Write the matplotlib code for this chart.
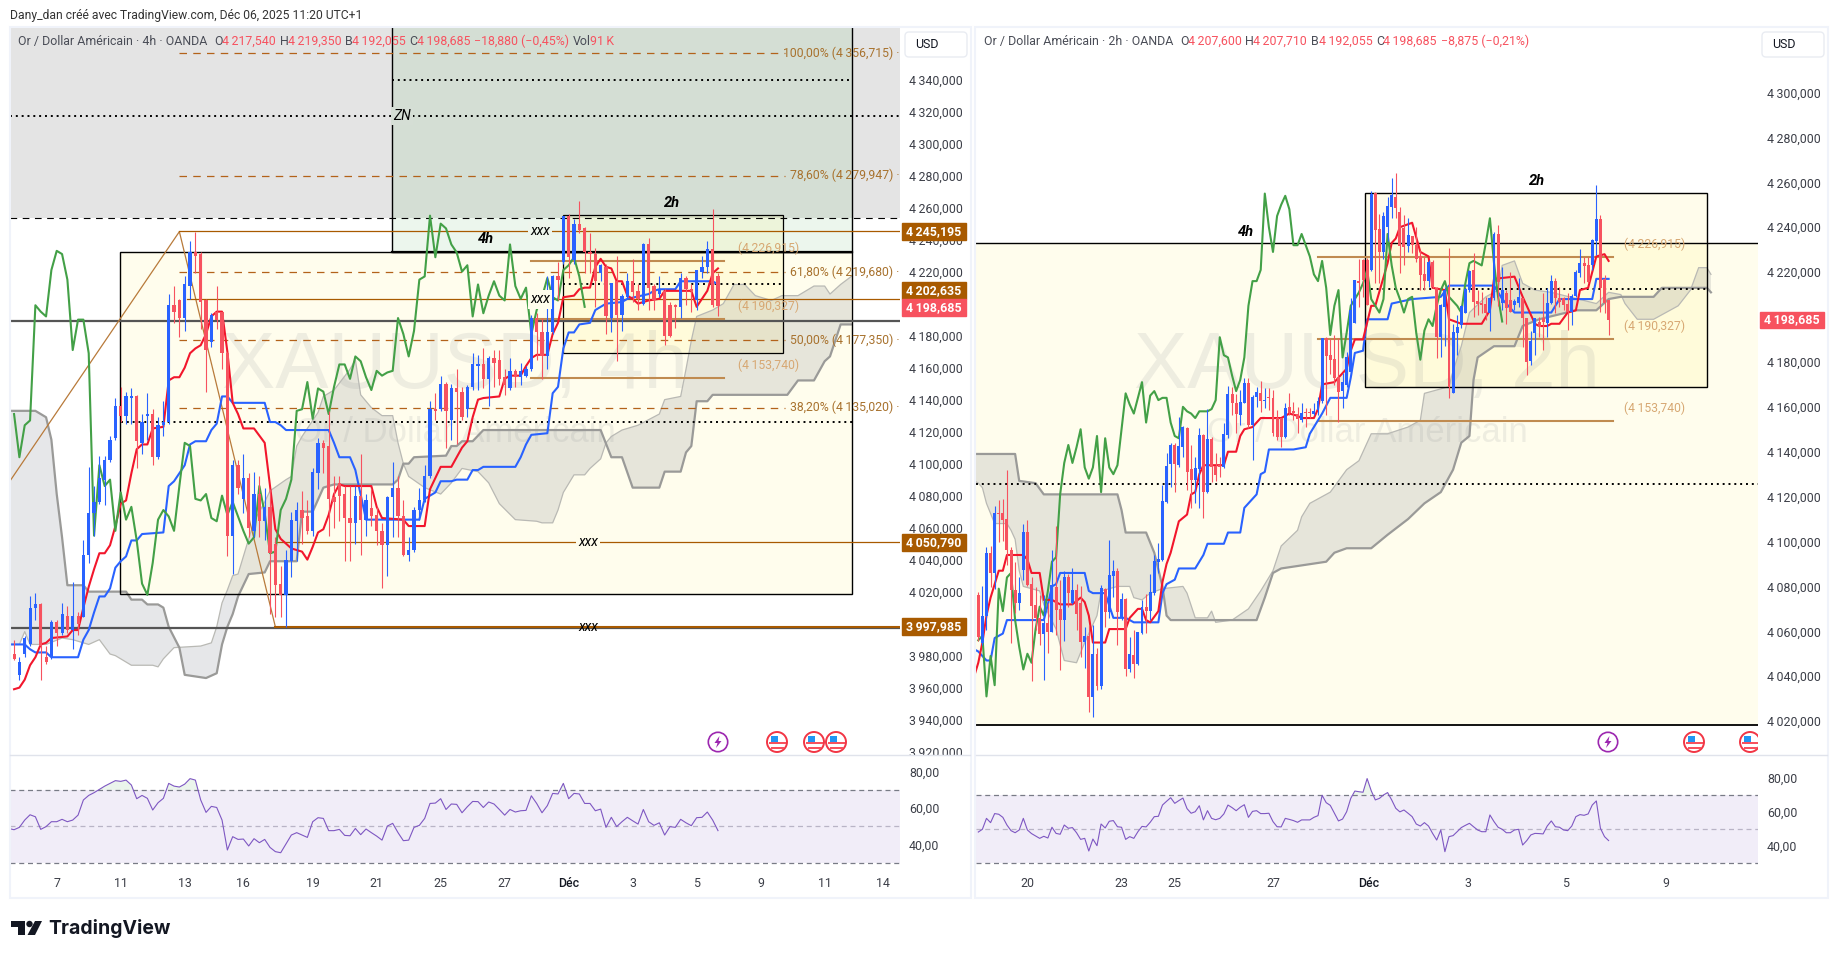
import numpy as np
import matplotlib
matplotlib.use('Agg')
import matplotlib.pyplot as plt
from matplotlib.patches import Rectangle, Circle, Polygon, FancyBboxPatch
from matplotlib.transforms import blended_transform_factory

plt.rcParams['font.family'] = ['Roboto', 'DejaVu Sans']

W, H = 1838, 958
BLUE = '#2962ff'
RED = '#f7525f'
BROWN = '#a85a00'
GREEN = '#43a047'
TENKAN = '#f2162c'

# ---- 4h chart ----
left_open = [3981,3968,3981,3987,4010,4012,3979,3979,4001,3994,4005,3996,4005,4004,4043,4069,4076,4090,4102,4116,
    4136,4130,4141,4142,4113,4130,4131,4104,4124,4126,
    4199,4202,4191,4211,4232,4231,4202,4176,4195,4195,
    4169,4055,4099,4078,4091,4058,4081,4064,4073,4050,
    4025,4018,4039,4064,4071,4067,4058,4094,4113,4111,
    4079,4088,4081,4066,4063,4080,4065,4072,4068,4058,
    4049,4079,4085,4067,4043,4046,4071,4077,4092,4134,
    4134,4150,4127,4147,4145,4134,4148,4161,4162,4153,
    4166,4165,4154,4147,4158,4154,4155,4159,4191,4182,
    4167,4182,4217,4226,4255,4227,4250,4247,4232,4231,
    4219,4223,4191,4214,4193,4204,4214,4208,4200,4237,
    4211,4206,4208,4199,4199,4198,4216,4209,4202,4220,
    4223,4234,4217.54]
left_high = [3990,3979,3992,4017,4019,4013,3986,4002,4002,4013,4011,4026,4007,4052,4098,4086,4105,4105,4117,4141,
    4148,4145,4147,4143,4131,4144,4134,4129,4139,4206,
    4211,4203,4217,4239,4245,4232,4203,4194,4211,4195,
    4170,4102,4102,4106,4094,4095,4092,4085,4084,4054,
    4036,4046,4070,4076,4083,4077,4097,4116,4115,4133,
    4092,4092,4086,4086,4086,4106,4081,4085,4073,4063,
    4080,4101,4092,4077,4054,4073,4085,4099,4139,4144,
    4155,4151,4150,4159,4148,4149,4169,4168,4172,4167,
    4171,4171,4159,4166,4159,4163,4161,4193,4194,4191,
    4217,4218,4226,4255,4256,4253,4264,4248,4244,4235,
    4225,4225,4213,4230,4206,4219,4228,4212,4238,4241,
    4212,4217,4209,4201,4200,4219,4217,4212,4221,4230,
    4239,4259,4219.35]
left_low = [3977,3965,3979,3986,4002,3965,3975,3978,3986,3993,3994,3984,3993,4004,4038,4055,4075,4074,4101,4115,
    4126,4125,4125,4097,4106,4115,4099,4103,4117,4125,
    4188,4179,4183,4203,4219,4184,4145,4173,4184,4159,
    4042,4031,4081,4069,4054,4054,4054,4052,4006,4004,
    4004,3998,4029,4039,4050,4056,4055,4084,4094,4055,
    4060,4064,4039,4039,4050,4043,4055,4061,4049,4022,
    4030,4054,4054,4042,4039,4045,4065,4076,4091,4127,
    4133,4110,4115,4112,4127,4129,4146,4146,4147,4136,
    4148,4149,4143,4146,4148,4149,4154,4158,4165,4153,
    4159,4181,4202,4225,4216,4225,4244,4219,4219,4198,
    4214,4181,4182,4164,4183,4203,4201,4196,4199,4196,
    4196,4204,4174,4179,4185,4191,4199,4195,4196,4216,
    4219,4198,4192.055]
left_close = [3978,3976,3991,4010,4012,3986,3976,4001,3994,4006,3996,4005,4000,4043,4069,4076,4091,4102,4115,4136,
    4130,4142,4142,4114,4126,4131,4104,4124,4126,4199,
    4195,4191,4212,4232,4230,4201,4171,4193,4190,4169,
    4055,4099,4085,4091,4060,4081,4064,4073,4044,4024,
    4018,4040,4065,4071,4066,4058,4095,4113,4110,4078,
    4076,4080,4066,4063,4080,4065,4077,4067,4058,4049,
    4079,4085,4067,4043,4046,4071,4077,4092,4134,4133,
    4150,4133,4147,4145,4129,4148,4162,4162,4153,4166,
    4163,4153,4149,4158,4154,4158,4159,4191,4182,4167,
    4182,4217,4215,4255,4229,4250,4246,4232,4231,4214,
    4224,4192,4213,4193,4205,4214,4207,4203,4237,4210,
    4202,4209,4180,4180,4198,4216,4209,4208,4221,4223,
    4234,4199,4198.685]

left_tenkan = [(0,3959),(1,3960),(2,3965),(3,3974),(4,3979),(5,3987),(6,3988),(7,3991),(10,3992),(11,3996),(12,3996),
    (13,4010),(14,4023),(15,4034),(16,4044),(17,4044),(18,4049),(19,4061),(20,4075),(21,4077),(22,4094),(23,4109),
    (24,4112),(25,4112),(26,4122),(28,4123),(29,4152),(30,4154),(31,4154),(32,4160),(33,4169),(34,4172),(35,4174),
    (36,4181),(37,4192),(38,4195),(39,4195),(40,4170),(41,4138),(42,4131),(43,4122),(45,4122),(47,4113),(48,4086),
    (49,4059),(50,4053),(52,4047),(54,4045),(55,4040),(56,4048),(57,4057),(58,4059),(59,4068),(60,4081),(61,4087),
    (62,4086),(67,4086),(68,4073),(69,4066),(73,4065),(74,4061),(77,4061),(78,4084),(80,4098),(82,4098),(84,4110),
    (85,4114),(86,4129),(87,4140),(88,4141),(91,4142),(92,4153),(93,4155),(95,4155),(96,4161),(97,4166),(98,4168),
    (100,4168),(101,4181),(102,4188),(103,4204),(105,4205),(106,4209),(107,4210),(108,4210),(109,4223),(110,4228),
    (111,4223),(112,4222),(113,4214),(114,4214),(115,4205),(116,4203),(117,4200),(118,4201),(119,4202),(121,4203),
    (122,4208),(127,4208),(128,4198),(129,4203),(130,4208),(131,4219),(132,4222)]
left_kijun = [(-1,3987),(2,3987),(3,3984),(4,3982),(6,3982),(7,3979),(12,3979),(13,3990),(14,3996),(15,4007),(16,4017),
    (17,4017),(18,4022),(19,4035),(20,4039),(21,4042),(22,4052),(23,4052),(24,4056),(28,4057),(29,4086),(30,4089),
    (31,4094),(32,4099),(33,4112),(34,4114),(36,4114),(37,4121),(38,4125),(39,4142),(40,4142),(41,4138),(47,4138),
    (48,4126),(49,4126),(50,4124),(51,4121),(59,4121),(60,4113),(61,4104),(63,4104),(64,4096),(66,4065),(76,4065),
    (77,4078),(79,4082),(80,4089),(82,4089),(83,4090),(85,4090),(86,4096),(87,4096),(88,4098),(94,4098),(95,4104),
    (96,4112),(97,4118),(100,4119),(101,4144),(102,4148),(103,4172),(104,4182),(105,4182),(106,4187),(108,4188),
    (109,4196),(110,4198),(111,4200),(114,4201),(115,4203),(119,4206),(120,4208),(121,4209),(124,4209),(125,4214),
    (131,4214),(132,4212)]
left_chikou = [4131,4104,4124,4127,4199,4195,4192,4221,4233,4231,4215,4171,4190,4190,4169,4055,4099,4086,4090,4058,
    4082,4065,4073,4052,4025,4018,4038,4065,4071,4067,4058,4086,4113,4111,4078,4077,4081,4066,4064,4080,
    4068,4076,4067,4058,4050,4054,4086,4069,4044,4045,4071,4078,4090,4133,4134,4151,4128,4147,4145,4131,
    4148,4162,4162,4153,4167,4164,4154,4146,4158,4155,4157,4158,4191,4181,4167,4183,4215,4217,4255,4229,
    4250,4247,4237,4232,4220,4224,4192,4212,4194,4205,4214,4205,4202,4237,4211,4203,4210,4181,4196,4204,
    4216,4204,4202,4221,4224,4229,4217,4198]
left_span_a = [(-1,3987),(1,3987),(2,3995),(3,3987),(6,3987),(9,3991),(11,3990),(14,3987),(16,3990),(18,3981),(19,3980),
    (22,3974),(26,3974),(27,3973),(28,3978),(30,3985),(35,3986),(37,3988),(38,3998),(39,4013),(40,4021),(41,4030),
    (42,4031),(43,4042),(45,4064),(47,4076),(48,4083),(51,4090),(52,4092),(53,4111),(54,4117),(57,4132),(58,4142),
    (60,4146),(63,4159),(64,4165),(65,4143),(67,4135),(69,4130),(71,4130),(72,4113),(73,4100),(74,4092),(77,4085),
    (80,4081),(82,4088),(84,4097),(87,4095),(89,4088),(91,4075),(94,4065),(98,4064),(99,4063),(101,4063),(102,4071),
    (103,4082),(105,4093),(107,4093),(108,4097),(110,4103),(111,4113),(112,4117),(114,4121),(117,4124),(121,4131),
    (122,4140),(125,4142),(126,4159),(127,4177),(128,4192),(131,4196),(132,4198),(133,4200),(135,4212),(137,4212),
    (139,4205),(142,4202),(144,4205),(147,4205),(150,4211),(152,4211),(153,4206),(155,4212),(157,4217)]
left_span_b = [(-1,4133),(4,4133),(5,4131),(6,4129),(7,4115),(8,4081),(9,4054),(10,4024),(13,4024),(14,4020),(21,4020),
    (22,4015),(24,4015),(25,4012),(27,4012),(28,4010),(29,3998),(31,3985),(32,3968),(34,3967),(36,3966),(38,3969),
    (39,3987),(40,3998),(41,4006),(42,4017),(44,4031),(47,4032),(48,4039),(53,4039),(54,4070),(56,4070),(58,4085),
    (60,4087),(71,4087),(72,4090),(73,4100),(74,4100),(75,4104),(81,4105),(82,4111),(83,4111),(84,4114),(86,4114),
    (88,4121),(110,4121),(112,4104),(114,4104),(116,4085),(121,4085),(122,4095),(125,4095),(126,4107),(127,4111),
    (128,4139),(130,4139),(131,4143),(145,4143),(147,4152),(150,4152),(152,4164),(153,4167),(155,4187),(157,4187)]
left_rsi = [48.9,48.2,49.5,53.5,56.4,55.3,48.4,49.9,52.6,52.6,53.9,52.6,53.5,56.2,64.5,67.0,68.5,70.3,72.1,73.6,
    75.1,74.7,75.4,72.7,65.2,67.0,65.4,59.0,63.0,65.4,73.6,72.1,71.6,73.2,76.2,75.4,64.5,57.7,61.0,60.4,
    53.5,37.1,44.4,42.9,43.1,39.3,43.3,41.1,42.9,38.5,36.2,35.6,40.4,45.3,46.6,45.3,44.0,52.6,54.8,54.4,
    47.7,47.7,48.4,45.1,44.9,48.9,45.5,48.6,46.6,44.7,42.5,50.2,51.7,46.6,42.2,42.5,49.5,50.6,54.4,62.6,
    62.8,65.2,59.3,62.3,62.1,57.5,60.8,63.7,63.6,60.4,63.4,62.3,59.3,56.2,59.3,57.9,58.6,58.8,66.8,62.6,
    57.5,61.4,68.1,67.8,73.6,65.2,68.1,67.8,62.6,62.6,58.6,59.5,49.5,55.0,49.9,52.6,55.0,53.1,51.3,59.3,
    52.6,50.6,52.0,45.3,49.9,49.5,53.9,52.0,50.4,54.8,55.0,57.9,53.5,47.7]
left_ticks = [8, 20, 32, 43, 56, 68, 80, 92, 104, 116, 128, 140, 152, 163]
left_tick_labels = ['7', '11', '13', '16', '19', '21', '25', '27', 'Déc', '3', '5', '9', '11', '14']
# 4200 sits under the value tags in the reference, so it has no label
left_price_ticks = [t for t in range(3920, 4341, 20) if t != 4200]
fib_levels = [4356.715, 4279.947, 4219.68, 4177.35, 4135.02]
fib_labels = ['100,00% (4\u2009356,715) ·', '78,60% (4\u2009279,947) ·', '61,80% (4\u2009219,680) ·',
              '50,00% (4\u2009177,350) ·', '38,20% (4\u2009135,020) ·']
pivot_levels = [4226.915, 4190.327, 4153.74]
pivot_labels = ['(4\u2009226,915)', '(4\u2009190,327)', '(4\u2009153,740)']
zigzag_bars = [-1, 31, 49]
zigzag_prices = [4088, 4245, 3998]

# ---- 2h chart ----
right_open = [4076.2,4054.7,4066.6,4094.8,4085.9,4112.6,4112.6,4110,4096.2,4078.4,
    4072.8,4087.3,4104.4,4081.1,4071.7,4065.8,4058.8,4063.9,4059.9,4079.9,
    4069.8,4065.1,4084.4,4072.5,4078.4,4072.5,4055.4,4058,4030.9,4049.9,
    4035.8,4078.7,4068.8,4084.8,4086.9,4065.8,4074.3,4043.2,4049.5,4045.5,
    4059.1,4071,4069,4076.9,4091,4091.8,4117.8,4134.6,4143,4134,
    4142.3,4150.4,4132.3,4127.4,4132.2,4147.5,4122,4145.5,4133.6,4134.1,
    4133.4,4147.5,4165.7,4161.9,4156.4,4161.9,4170.5,4151.9,4164.5,4166.3,
    4162.8,4164.5,4164.1,4154.9,4154.9,4146.4,4159.8,4158,4156.7,4154.1,
    4157.4,4157.4,4156.8,4158.6,4162.8,4190.5,4183.1,4181.2,4173.1,4167.2,
    4169.7,4175.7,4197.5,4216.2,4225.4,4225.4,4221,4255.4,4239,4229,
    4240.3,4249.2,4253.6,4247,4239.5,4231.6,4236,4232,4227,4219.2,
    4216,4224.4,4212.8,4191,4204.6,4213.2,4166,4193,4196.4,4202,
    4212,4221,4207.3,4206.1,4205.8,4201.6,4208.3,4237,4206.1,4210.6,
    4207.6,4205.4,4206.4,4208.3,4199.4,4180.4,4193,4198,4199.4,4197.5,
    4206.4,4216.2,4208.3,4208.3,4205.8,4202.4,4209.4,4219.5,4223.9,4223.2,
    4223.2,4234,4243.5,4216.8,4207.6]
right_high = [4077.7,4080,4097.4,4098,4115.9,4118.5,4119,4132,4097.7,4091,
    4084.4,4107.8,4109.6,4084.4,4079.6,4076,4076,4072.5,4096,4107,
    4082.9,4087,4085.6,4088,4081,4080,4062,4062.8,4062.8,4052.4,
    4080.7,4079.2,4100.7,4091.8,4088,4076.9,4074.7,4057.3,4060.6,4059.9,
    4074,4076.6,4085.4,4094,4099.5,4125.2,4139.6,4143.8,4143.8,4155.3,
    4151.5,4151.2,4143,4137.8,4150.4,4148,4158.9,4146.7,4139.3,4137.8,
    4152.7,4169.3,4169,4165.7,4167.5,4173,4172.7,4165.3,4169,4171.7,
    4168.2,4168.2,4167.5,4158.6,4155,4161.6,4166,4162.3,4160.1,4161.6,
    4159.3,4159.3,4161.9,4164.5,4190.5,4191,4190,4192,4190.5,4175,
    4184.6,4208.3,4216.5,4226,4226,4226.5,4256,4255.8,4246,4247,
    4253.3,4261.8,4264,4249,4245.4,4244,4236,4240,4230,4226.9,
    4225.4,4225.4,4213.5,4206,4213.5,4230.6,4197,4200.9,4205.4,4212.8,
    4221,4228.4,4212,4211,4209,4209,4238,4241,4222.4,4212,
    4220,4208,4217.2,4208.3,4199.4,4194,4199.4,4200.2,4210.6,4212.8,
    4218.7,4217.2,4213.5,4209,4210.6,4210.3,4221,4230.2,4226.9,4226.6,
    4234.6,4258.8,4245.4,4218.7,4207.71]
right_low = [4055.9,4054,4060.6,4079.9,4079,4100,4100.4,4089.6,4055,4068,
    4069.5,4082.9,4080,4038,4060.6,4053.9,4038.3,4050.5,4059.6,4058.4,
    4042.8,4055.9,4071,4072.2,4060.6,4048.7,4043.5,4024.2,4021.7,4033.9,
    4034.2,4062.1,4065.8,4075.5,4053.9,4065,4040.1,4042,4039.4,4045,
    4058.8,4059.1,4065,4076.2,4085.9,4091.5,4117.3,4124.5,4122.2,4133,
    4137.8,4123,4114.8,4117,4114.8,4110.3,4121.7,4126.7,4127.1,4128.6,
    4132.6,4146,4156.4,4148.2,4151.9,4161.6,4150.4,4136.3,4160.1,4157.9,
    4159.3,4158.6,4147,4145.2,4142.3,4146,4156.4,4154.1,4148.2,4153.4,
    4151.2,4154.9,4156.4,4156.4,4161.6,4156.4,4174.6,4169.7,4153.4,4159.3,
    4169,4174,4197.2,4204.6,4209,4205.4,4220.7,4215,4215,4226,
    4234,4244,4244,4219.4,4223,4229,4228.4,4224.6,4212,4212,
    4213.5,4212.8,4181.6,4182,4187,4163.8,4166,4183,4195,4201.6,
    4211.3,4200,4200.9,4201.6,4198.7,4194,4207.6,4205,4203,4197,
    4202.4,4203,4204.6,4186.8,4174.2,4178.6,4183.1,4191.3,4185.3,4191,
    4205.8,4202,4204.6,4203.1,4194.2,4196.4,4209,4218,4215,4215,
    4221,4227.6,4202.4,4201.6,4192.055]
right_close = [4057.6,4066.6,4094.8,4085.9,4112.9,4112.3,4109.6,4096,4078.4,4072.8,
    4076.9,4104.4,4080.7,4071.3,4065.8,4058.8,4063.6,4059.9,4080.7,4069.5,
    4065.1,4084.4,4076.9,4078.4,4067.7,4055.4,4058,4030.9,4049.9,4035.8,
    4079.2,4068.8,4085.1,4086.9,4068.8,4074.3,4043.2,4049.9,4045.5,4059.6,
    4071,4069,4077.4,4091.3,4092,4118,4133.7,4143,4134.6,4142.6,
    4151.2,4131.1,4127.4,4132.9,4147.5,4122.2,4145.5,4133.4,4129.6,4133.4,
    4147.7,4165.6,4161.9,4156.7,4162.3,4170.5,4151.9,4164.5,4166.8,4162.8,
    4163,4164.1,4148.2,4146.7,4146.7,4159.3,4157.4,4157.1,4154.4,4157.4,
    4157.1,4157.1,4158.3,4162.8,4190.5,4182.6,4180.9,4172.7,4166.8,4171.2,
    4182.3,4203.1,4216.5,4215,4216.5,4205.4,4255,4238.8,4229,4245,
    4249.5,4254.4,4248.4,4231.6,4231.3,4236.5,4232,4226,4218.7,4216.2,
    4224.6,4213.5,4191,4205.4,4212,4169,4193.5,4195.7,4205,4212.3,
    4220.7,4206.8,4205.8,4205.4,4201.6,4208.3,4237,4215.7,4212,4203.9,
    4202.4,4207.1,4208.8,4199.4,4180.1,4189.5,4199.4,4195.7,4198,4206.4,
    4216.2,4208.3,4206.8,4205.4,4202.4,4209.4,4220.2,4223.9,4222.9,4215.8,
    4234.3,4243.5,4212.8,4206.1,4198.685]

right_tenkan = [(-1,4040),(0,4046),(1,4055),(2,4067),(3,4075),(5,4087),(6,4087),(7,4094),(11,4094),(12,4092),(13,4086),(15,4086),
    (16,4074),(18,4074),(20,4072),(23,4072),(25,4075),(26,4073),(27,4067),(28,4055),(31,4055),(32,4061),(36,4061),
    (37,4066),(39,4070),(40,4070),(41,4065),(42,4064),(44,4069),(45,4082),(46,4090),(47,4095),(49,4109),(51,4112),
    (52,4121),(53,4122),(54,4130),(55,4134),(60,4134),(61,4140),(63,4140),(64,4147),(65,4150),(67,4151),(69,4155),
    (74,4155),(76,4157),(78,4156),(79,4155),(82,4155),(83,4159),(84,4170),(87,4171),(88,4173),(90,4177),(91,4185),
    (92,4190),(94,4190),(96,4205),(97,4205),(100,4224),(101,4233),(102,4235),(103,4240),(106,4242),(108,4229),
    (110,4227),(111,4213),(114,4212),(115,4199),(118,4197),(123,4197),(125,4203),(126,4217),(131,4218),(133,4209),
    (136,4197),(137,4196),(139,4196),(140,4197),(142,4197),(144,4202),(146,4203),(147,4212),(149,4213),(151,4227),
    (153,4228),(154,4225)]
right_kijun = [(-1,4052),(0,4051),(2,4047),(3,4047),(4,4057),(6,4059),(7,4065),(16,4065),(17,4072),(18,4080),(19,4081),(20,4086),
    (26,4086),(27,4078),(28,4077),(31,4077),(33,4066),(36,4066),(38,4064),(44,4064),(45,4077),(46,4081),(48,4083),
    (49,4088),(53,4088),(55,4094),(56,4099),(60,4099),(61,4104),(64,4104),(65,4115),(68,4121),(69,4130),(70,4131),
    (71,4141),(77,4141),(80,4142),(81,4148),(84,4157),(86,4164),(90,4164),(91,4173),(92,4184),(94,4185),(95,4199),
    (100,4199),(101,4206),(106,4208),(113,4209),(115,4214),(126,4214),(128,4208),(131,4202),(140,4202),(142,4208),
    (150,4208),(151,4217),(154,4217)]
right_chikou = [4056,4058,4031,4049,4036,4079,4069,4084,4086,4065,4053,4043,4050,4046,4061,4071,4067,4078,4091,4093,
    4121,4135,4143,4135,4142,4150,4133,4128,4133,4147,4122,4146,4133,4130,4134,4150,4166,4161,4157,4164,
    4171,4153,4165,4167,4163,4164,4164,4153,4147,4146,4160,4158,4157,4155,4158,4158,4158,4159,4163,4191,
    4183,4182,4174,4167,4172,4182,4205,4216,4216,4221,4255,4240,4229,4245,4250,4254,4248,4232,4232,4237,
    4232,4227,4219,4216,4225,4213,4192,4205,4212,4182,4193,4205,4208,4211,4215,4221,4208,4205,4202,4208,
    4237,4223,4213,4208,4202,4208,4209,4193,4181,4194,4199,4196,4205,4212,4216,4209,4207,4205,4202,4215,
    4224,4225,4224,4223,4233,4244,4224,4209,4198]
right_span_a = [(-1,4127),(0,4126),(1,4124),(2,4117),(4,4108),(7,4108),(8,4105),(9,4101),(10,4087),(11,4080),(15,4078),(16,4072),
    (19,4061),(21,4047),(24,4046),(26,4055),(29,4067),(30,4078),(34,4080),(37,4080),(38,4075),(40,4074),(42,4077),
    (45,4079),(50,4080),(51,4077),(53,4066),(56,4066),(57,4069),(58,4064),(62,4065),(66,4070),(69,4078),(72,4087),
    (74,4098),(78,4105),(79,4111),(81,4117),(86,4122),(90,4132),(93,4136),(95,4144),(96,4148),(100,4148),(105,4151),
    (108,4154),(109,4166),(115,4169),(116,4176),(118,4187),(120,4202),(124,4209),(127,4212),(128,4223),(131,4225),
    (133,4215),(136,4212),(140,4211),(151,4206),(154,4211),(157,4210),(158,4206),(161,4199),(165,4199),(171,4205),
    (174,4212),(176,4222),(178,4222),(179,4219)]
right_span_b = [(-1,4139),(9,4139),(10,4127),(14,4126),(16,4121),(34,4121),(35,4114),(36,4104),(41,4104),(43,4095),
    (45,4080),(46,4067),(47,4065),(62,4065),(68,4065),(70,4075),(72,4086),(74,4088),(85,4091),(87,4095),(90,4097),
    (96,4097),(100,4103),(105,4110),(109,4117),(113,4122),(116,4132),(118,4144),(120,4147),(121,4172),(122,4182),
    (126,4187),(131,4187),(133,4196),(137,4199),(146,4203),(151,4203),(154,4208),(157,4209),(165,4209),(167,4213),
    (178,4213),(179,4211)]
right_rsi = [48.2,49.8,56.2,53.7,59,58.6,56.8,52.3,49,47.8,49.4,56.2,49.4,47.3,45.9,44.5,45.7,44.7,51,47.4,
    46.9,52.3,50.4,50.8,47.8,43.9,44.5,37.1,44.1,40.2,52.9,50.6,54.5,54.9,51.3,51,43.9,45.5,44.5,48.4,
    51.5,51.2,53.9,57.2,57.4,64,66.2,68.3,65,66.6,68.1,61.9,59.2,60.1,63.6,55.3,60.7,56.2,55.4,56.2,
    58.8,64,62.5,60.7,62.7,64.2,56.8,60.3,60.7,59,59,59.2,54.3,51.3,51.2,56.2,55.6,54.9,53.9,55.3,
    55.3,55.3,56.8,57.8,69.7,65.4,63.8,59.2,54.7,55.8,60.1,67.9,72.2,71.8,71.5,79.5,72.4,67,67.9,69.9,
    71.3,67,62.1,60,61.1,59.2,57.2,52.9,51.7,53.7,51.7,47.4,43.5,49.4,36.7,45.5,46.1,48.4,50.8,52.1,
    53.3,51.3,49.4,48.4,48.4,58.2,54.3,51,49.8,47.8,47.8,49.4,49.8,40.6,43.2,46.5,47.4,47.3,47.1,51.7,
    54.7,51.3,51,49.4,49,51.7,57.2,58.4,58,58.8,64,66.4,50.4,45.5,43.2]
right_ticks = [12, 35, 48, 72, 95.5, 119.5, 143.5, 168]
right_tick_labels = ['20', '23', '25', '27', 'Déc', '3', '5', '9']
right_price_ticks = [t for t in range(4020, 4301, 20) if t != 4200]

fig = plt.figure(figsize=(W / 100, H / 100), dpi=100, facecolor='white')


def axes_px(x0, y0, x1, y1, **kw):
    return fig.add_axes([x0 / W, 1 - y1 / H, (x1 - x0) / W, (y1 - y0) / H], **kw)


def draw_candles(ax, o, h, l, c, width):
    o, h, l, c = map(np.array, (o, h, l, c))
    x = np.arange(len(o))
    colors = [BLUE if c[i] >= o[i] else RED for i in range(len(o))]
    ax.vlines(x, l, h, colors=colors, lw=0.8, zorder=6)
    ax.bar(x, np.maximum(np.abs(c - o), 0.4), bottom=np.minimum(o, c), width=width, color=colors, lw=0, zorder=6)


def draw_cloud(ax, span_a, span_b):
    ax_x, ax_y = zip(*span_a)
    bx_x, bx_y = zip(*span_b)
    ax.fill(list(ax_x) + list(bx_x[::-1]), list(ax_y) + list(bx_y[::-1]), color='#787b86', alpha=0.18, lw=0, zorder=3)
    ax.plot(ax_x, ax_y, color='#b9b9b4', lw=0.9, zorder=3.1)
    ax.plot(bx_x, bx_y, color='#9a9a98', lw=1.6, zorder=3.1)


def draw_ichimoku(ax, tenkan, kijun, chikou):
    ax.plot(*zip(*kijun), color=BLUE, lw=1.5, zorder=5)
    ax.plot(*zip(*tenkan), color=TENKAN, lw=1.5, zorder=5)
    ax.plot(np.arange(len(chikou)), chikou, color=GREEN, lw=1.5, zorder=5)


def style_price_axis(ax, ticks):
    ax.yaxis.tick_right()
    ax.set_yticks(ticks)
    ax.set_yticklabels([f'{t:,.3f}'.replace(',', '\u2009').replace('.', ',') for t in ticks], fontsize=8.9, color='#3c3f48')
    ax.tick_params(axis='y', length=0, pad=6.5)
    ax.set_xticks([])
    for s in ax.spines.values():
        s.set_visible(False)


def price_tag(ax, price, text, color, height):
    tr = blended_transform_factory(ax.transAxes, ax.transData)
    x0, x1 = ax.get_position().x0 * W, ax.get_position().x1 * W
    w = 64 / (x1 - x0)
    ax.add_patch(Rectangle((1.002, price - height / 2), w, height, transform=tr, color=color, clip_on=False, zorder=8))
    ax.text(1.002 + w / 2, price, text, transform=tr, color='white', fontsize=8.9, fontweight='bold',
            ha='center', va='center', clip_on=False, zorder=9)


def watermark(ax, symbol):
    ax.text(0.5, 0.532, symbol, transform=ax.transAxes, fontsize=57.5, family='Liberation Sans',
            color='#787b86', alpha=0.12, ha='center', va='center', zorder=2)
    ax.text(0.5, 0.443, 'Or / Dollar Américain', transform=ax.transAxes, fontsize=25, family='Liberation Sans',
            color='#787b86', alpha=0.12, ha='center', va='center', zorder=2)


def draw_rsi(ax, values, n_bars, ticks, labels):
    x = np.arange(n_bars - len(values), n_bars)
    v = np.array(values)
    ax.axhspan(30, 70, color='#7e57c2', alpha=0.1, lw=0, zorder=1)
    ax.axhline(70, color='#787b86', lw=0.9, ls=(0, (4, 3)), zorder=2)
    ax.axhline(30, color='#787b86', lw=0.9, ls=(0, (4, 3)), zorder=2)
    ax.axhline(50, color='#b9b4c6', lw=0.9, ls=(0, (4, 3)), zorder=2)
    ax.fill_between(x, 70, v, where=v > 70, interpolate=True, color='#43a047', alpha=0.1, lw=0)
    ax.plot(x, v, color='#7e57c2', lw=0.8, zorder=3)
    ax.yaxis.tick_right()
    ax.set_yticks([40, 60, 80])
    ax.set_yticklabels(['40,00', '60,00', '80,00'], fontsize=8.9, color='#3c3f48')
    ax.tick_params(axis='y', length=0, pad=6.5)
    ax.set_xticks(ticks)
    ax.set_xticklabels(labels, fontsize=8.9, color='#3c3f48')
    ax.tick_params(axis='x', length=0, pad=3.5)
    for t, lab in zip(ax.get_xticklabels(), labels):
        if lab == 'Déc':
            t.set_fontweight('medium')
            t.set_color('#131722')
    for s in ax.spines.values():
        s.set_visible(False)


# ---------- left chart, 4h ----------
ax1 = axes_px(10, 27, 900, 755)
ax1.set_xlim(-0.76, 166.13)
ax1.set_ylim(3917.9, 4372.9)
style_price_axis(ax1, left_price_ticks)
watermark(ax1, 'XAUUSD, 4h')

ax1.axhspan(4253.4, 4372.9, color='#e4e4e4', lw=0, zorder=0)
ax1.axhline(4253.4, color='black', lw=0.8, ls=(0, (6, 5)), zorder=4)
ax1.add_patch(Rectangle((70.9, 4232.3), 86.2, 150, facecolor='#4caf50', alpha=0.1, lw=0, zorder=1))
ax1.plot([70.9, 70.9, 157.1, 157.1], [4372.9, 4232.3, 4232.3, 4372.9], color='black', lw=1, zorder=4)
ax1.plot([70.9, 157.1], [4232.3, 4232.3], color='black', lw=1.6, zorder=4)
ax1.add_patch(Rectangle((19.8, 4018.6), 137.3, 213.7, facecolor='#ffeb3b', alpha=0.09, edgecolor='none', zorder=1))
ax1.add_patch(Rectangle((19.8, 4018.6), 137.3, 213.7, fill=False, edgecolor='black', lw=1, zorder=4))
ax1.add_patch(Rectangle((103, 4169.2), 41.1, 86.2, facecolor='#ffeb3b', alpha=0.1, edgecolor='none', zorder=1.5))
ax1.add_patch(Rectangle((103, 4169.2), 41.1, 86.2, fill=False, edgecolor='black', lw=0.9, zorder=4))

dots = (0, (1, 2))
ax1.plot([70.9, 157.1], [4339.8, 4339.8], color='black', lw=1.4, ls=dots, zorder=4)
ax1.axhline(4317.3, color='black', lw=1.4, ls=dots, zorder=4)
ax1.plot([20, 157.1], [4126, 4126], color='black', lw=1.4, ls=dots, zorder=4)
ax1.plot([103, 144.1], [4212.3, 4212.3], color='black', lw=1.4, ls=dots, zorder=4)
ax1.axhline(4189.4, color='#555555', lw=1.6, zorder=4)
ax1.axhline(3997.5, color='#555555', lw=1.6, zorder=4)

ax1.plot(zigzag_bars, zigzag_prices, color='#b87a3a', lw=0.9, zorder=4)
for level, label in zip(fib_levels, fib_labels):
    ax1.plot([31, 144.5], [level, level], color='#b3621a', lw=0.9, ls=(0, (6, 5)), zorder=4)
    ax1.text(166.0, level, label, color='#a8722e', fontsize=8.8, ha='right', va='center', zorder=7)
for level, label in zip(pivot_levels, pivot_labels):
    ax1.plot([97, 133.1], [level, level], color='#c08b50', lw=1.5, zorder=4)
    ax1.text(135.7, level + 7.7, label, color='#d7a873', fontsize=8.7, ha='left', va='center', zorder=7)

ax1.plot([31, 166.13], [4245.195, 4245.195], color=BROWN, lw=0.9, zorder=4)
ax1.plot([32.4, 166.13], [4202.635, 4202.635], color=BROWN, lw=0.9, zorder=4)
ax1.plot([49, 166.13], [4050.79, 4050.79], color=BROWN, lw=0.9, zorder=4)
ax1.plot([49, 166.13], [3997.985, 3997.985], color=BROWN, lw=1.5, zorder=4.5)

draw_cloud(ax1, left_span_a, left_span_b)
draw_ichimoku(ax1, left_tenkan, left_kijun, left_chikou)
draw_candles(ax1, left_open, left_high, left_low, left_close, 0.58)


def tag_text(ax, x, y, s, bg=None, **kw):
    box = dict(facecolor=bg, edgecolor='none', pad=1.5) if bg else None
    ax.text(x, y, s, style='italic', color='black', ha='center', va='center', bbox=box, zorder=7, **kw)


tag_text(ax1, 72.7, 4317.3, 'ZN', bg='#d5ded5', fontsize=10)
tag_text(ax1, 98.6, 4245.195, 'xxx', bg='#eef5ec', fontsize=10)
tag_text(ax1, 98.6, 4202.635, 'xxx', bg='#fffdec', fontsize=10)
tag_text(ax1, 107.6, 4050.79, 'xxx', bg='#fffdec', fontsize=10)
tag_text(ax1, 107.6, 3997.985, 'xxx', fontsize=10)
tag_text(ax1, 123.4, 4263, '2h', fontsize=10.5, fontweight='bold')
tag_text(ax1, 88.5, 4240.4, '4h', fontsize=10.5, fontweight='bold')

price_tag(ax1, 4245.195, '4\u2009245,195', BROWN, 10.6)
price_tag(ax1, 4208.4, '4\u2009202,635', BROWN, 10.6)
price_tag(ax1, 4197.6, '4\u2009198,685', RED, 10.6)
price_tag(ax1, 4050.79, '4\u2009050,790', BROWN, 10.6)
price_tag(ax1, 3997.985, '3\u2009997,985', BROWN, 10.6)

rsi1 = axes_px(10, 755, 900, 872)
rsi1.set_xlim(-0.76, 166.13)
rsi1.set_ylim(25.04, 89.15)
draw_rsi(rsi1, left_rsi, len(left_open), left_ticks, left_tick_labels)

# ---------- right chart, 2h ----------
ax2 = axes_px(976, 27, 1758, 755)
ax2.set_xlim(-0.56, 190.5)
ax2.set_ylim(4004.9, 4329.2)
style_price_axis(ax2, right_price_ticks)
watermark(ax2, 'XAUUSD, 2h')

ax2.add_patch(Rectangle((-0.56, 4018.4), 191.06, 214.4, facecolor='#ffeb3b', alpha=0.09, edgecolor='none', zorder=1))
ax2.plot([-0.56, 190.5], [4232.8, 4232.8], color='black', lw=1, zorder=4)
ax2.plot([-0.56, 190.5], [4018.4, 4018.4], color='black', lw=1.3, zorder=4)
ax2.add_patch(Rectangle((94.5, 4169), 83.5, 86.1, facecolor='#ffeb3b', alpha=0.1, edgecolor='none', zorder=1.5))
ax2.add_patch(Rectangle((94.5, 4169), 83.5, 86.1, fill=False, edgecolor='black', lw=1, zorder=4))
ax2.plot([94.5, 178], [4212.5, 4212.5], color='black', lw=1.4, ls=dots, zorder=4)
ax2.axhline(4125.6, color='black', lw=1.4, ls=dots, zorder=4)
for level, label in zip(pivot_levels, pivot_labels):
    ax2.plot([83, 155], [level, level], color='#c08b50', lw=1.5, zorder=4)
    ax2.text(157.8, level + 5.4, label, color='#d7a873', fontsize=8.7, ha='left', va='center', zorder=7)

draw_cloud(ax2, right_span_a, right_span_b)
draw_ichimoku(ax2, right_tenkan, right_kijun, right_chikou)
draw_candles(ax2, right_open, right_high, right_low, right_close, 0.72)

tag_text(ax2, 65.5, 4238, '4h', fontsize=10.5, fontweight='bold')
tag_text(ax2, 136.5, 4260.5, '2h', fontsize=10.5, fontweight='bold')
price_tag(ax2, 4198.685, '4\u2009198,685', RED, 7.5)

rsi2 = axes_px(976, 755, 1758, 872)
rsi2.set_xlim(-0.56, 190.5)
rsi2.set_ylim(24.8, 93.3)
draw_rsi(rsi2, right_rsi, len(right_open), right_ticks, right_tick_labels)

# ---------- page furniture in pixels ----------
ov = fig.add_axes([0, 0, 1, 1], zorder=20)
ov.set_xlim(0, W)
ov.set_ylim(H, 0)
ov.axis('off')
ov.patch.set_alpha(0)

frame = '#f0f3fa'
ov.add_patch(Rectangle((9.5, 26.5), 961, 871, fill=False, edgecolor=frame, lw=1.5))
ov.add_patch(Rectangle((975, 26.5), 853, 871, fill=False, edgecolor=frame, lw=1.5))
ov.plot([10, 970], [755, 755], color='#e0e3eb', lw=1)
ov.plot([976, 1827], [755, 755], color='#e0e3eb', lw=1)
ov.add_patch(Rectangle((901, 756), 68, 6, color='white'))

ov.text(10, 15, 'Dany_dan créé avec TradingView.com, Déc 06, 2025 11:20 UTC+1', fontsize=8.7, color='#333333', va='center')


def header(parts, y=41.5):
    for x, s, col in parts:
        ov.text(x, y, s, fontsize=8.9, color=col, va='center')


grey = '#4a4d57'
header([(18, 'Or / Dollar Américain · 4h · OANDA', grey), (214, 'O', grey), (222, '4\u2009217,540', RED),
        (280, 'H', grey), (288, '4\u2009219,350', RED), (345, 'B', grey), (352, '4\u2009192,055', RED),
        (409, 'C', grey), (417, '4\u2009198,685', RED), (474, '−18,880 (−0,45%)', RED),
        (573, 'Vol', grey), (590, '91\u2009K', RED)])
header([(984, 'Or / Dollar Américain · 2h · OANDA', grey), (1180, 'O', grey), (1188, '4\u2009207,600', RED),
        (1245, 'H', grey), (1253, '4\u2009207,710', RED), (1311, 'B', grey), (1319, '4\u2009192,055', RED),
        (1376, 'C', grey), (1383, '4\u2009198,685', RED), (1441, '−8,875 (−0,21%)', RED)])

for bx in (905, 1762):
    ov.add_patch(FancyBboxPatch((bx, 32), 62, 25, boxstyle='round,pad=0,rounding_size=4', facecolor='white',
                                edgecolor='#e9ecf2', lw=1))
    ov.text(bx + 10, 44.5, 'USD', fontsize=8.9, color='#131722', va='center')


def flag_icon(cx, cy=742):
    ov.add_patch(Circle((cx, cy), 10, facecolor='white', edgecolor='#f23645', lw=1.4))
    ov.add_patch(Rectangle((cx - 8.5, cy), 17, 2.4, color='#f7525f', lw=0))
    ov.add_patch(Rectangle((cx - 6.5, cy + 5), 13, 2.4, color='#f7525f', lw=0))
    ov.add_patch(Rectangle((cx - 6, cy - 6.5), 7, 6.5, color='#2196f3', lw=0))


def bolt_icon(cx, cy=742):
    ov.add_patch(Circle((cx, cy), 9.7, facecolor='white', edgecolor='#9c27b0', lw=1.2))
    ov.add_patch(Polygon([(cx + 1.5, cy - 6), (cx - 3.5, cy + 1), (cx - 0.5, cy + 1), (cx - 2, cy + 6),
                          (cx + 3.5, cy - 1), (cx + 0.5, cy - 1)], color='#9c27b0', lw=0))


bolt_icon(718)
for cx in (777, 814, 836):
    flag_icon(cx)
bolt_icon(1608)
for cx in (1694, 1750):
    flag_icon(cx)
ov.add_patch(Rectangle((1758, 728), 8, 26, color='white', lw=0))

# logo
ov.add_patch(Polygon([(11, 921), (25, 921), (25, 935), (18, 935), (18, 927), (11, 927)], color='#131722', lw=0))
ov.add_patch(Circle((29.5, 924), 3.2, color='#131722', lw=0))
ov.add_patch(Polygon([(35, 921), (42, 921), (35, 935), (27.5, 935)], color='#131722', lw=0))
ov.text(48, 928, 'TradingView', fontsize=14, fontweight='bold', family='Inter', color='#131722', va='center')

fig.savefig('out.png', dpi=100, facecolor='white')
